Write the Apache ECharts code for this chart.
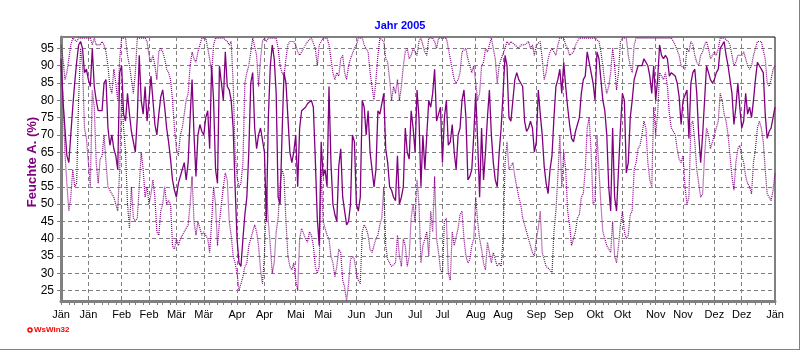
<!DOCTYPE html>
<html><head><meta charset="utf-8">
<script src="https://cdn.jsdelivr.net/npm/echarts@6/dist/echarts.min.js"></script>
<style>html,body{margin:0;padding:0;background:#fff}#c{width:800px;height:350px}</style>
</head><body><div id="c"></div>
<script>
// day index 0 = 1 Jan 2005 ... 365 = 1 Jan 2006
const days = Array.from({length: 366}, (_, i) => i);
const tickDays = [0,14,31,45,59,73,90,104,120,134,151,165,181,195,212,226,243,257,273,287,304,318,334,348,365];
const tickLabels = ['Jän','Jän','Feb','Feb','Mär','Mär','Apr','Apr','Mai','Mai','Jun','Jun','Jul','Jul','Aug','Aug','Sep','Sep','Okt','Okt','Nov','Nov','Dez','Dez','Jän'];
const yTicks = [25,30,35,40,45,50,55,60,65,70,75,80,85,90,95];

const meanValues = [
92,80,72,64,62,70,78,85,91,96,
97,95,88,89,86,84,95,84,80,77,
77,77,85,86,72,67,70,66,64,60,
88,90,76,74,82,76,71,68,65,75,
93,80,76,84,74,80,87,80,73,70,
76,81,83,78,72,68,63,57,54,52,
56,58,58,62,57,62,75,86,70,58,
70,73,71,70,75,77,66,90,80,60,
56,90,90,80,94,84,83,80,72,55,
40,33,32,40,47,52,65,85,88,72,
66,70,72,72,65,45,75,90,96,92,
82,52,50,70,88,85,75,65,62,65,
70,55,72,77,77,78,79,79,80,78,
63,46,38,68,58,60,55,84,62,50,
47,45,61,66,52,48,44,45,50,70,
68,50,48,52,80,78,70,77,65,60,
55,60,77,76,76,82,66,62,55,54,
52,51,64,50,52,55,72,65,63,77,
72,65,83,75,55,70,60,60,80,78,
82,89,74,76,78,62,75,80,67,68,
73,65,60,70,72,80,83,75,57,58,
60,70,82,68,52,72,57,65,75,83,
70,62,57,55,65,72,82,93,90,75,
74,80,86,88,86,85,84,74,71,72,
74,72,65,68,83,76,70,61,56,53,
60,64,75,84,86,89,82,91,84,78,
73,69,68,71,73,75,82,86,87,94,
91,88,85,80,94,92,86,80,77,70,
55,48,72,52,48,60,72,82,80,59,
62,75,80,86,88,90,90,90,92,91,
90,87,82,90,80,86,96,93,92,93,
92,87,88,88,87,85,81,73,80,80,
83,69,85,88,89,82,70,62,70,80,
90,88,86,85,86,88,89,95,96,97,
93,90,90,82,73,78,85,78,72,74,
82,76,78,75,80,86,91,90,89,88,
76,69,71,72,75,78
];
const maxValues = [
96,92,86,88,92,96,98,98,97,98,
98,98,98,98,98,98,96,98,96,96,
96,97,96,94,90,84,82,89,85,80,
92,98,98,98,93,90,86,82,88,98,
98,98,98,98,97,93,91,93,90,86,
94,95,94,92,89,88,86,80,72,66,
64,70,72,76,80,82,90,94,92,91,
94,96,98,98,98,98,92,88,96,98,
98,98,98,98,98,97,96,97,85,65,
58,55,56,62,85,88,90,90,98,98,
93,84,92,97,98,97,98,98,98,98,
98,95,90,88,87,92,96,97,97,97,
96,94,93,93,95,96,97,97,98,98,
95,90,96,97,98,98,98,96,92,88,
86,88,87,92,93,88,86,90,92,92,
95,96,98,98,98,96,95,94,88,84,
80,86,93,98,98,97,92,91,86,80,
84,82,86,80,84,90,94,95,92,93,
95,94,93,97,98,96,94,93,98,98,
98,97,95,98,98,98,98,98,95,92,
92,86,85,86,88,94,94,95,92,90,
88,90,85,80,82,90,91,95,94,96,
98,98,92,85,90,92,92,95,97,96,
97,97,96,96,95,96,96,96,96,97,
95,96,93,96,96,97,92,86,88,92,
94,95,94,93,96,98,98,98,96,95,
93,93,94,96,96,98,98,98,98,98,
98,98,98,98,98,97,94,90,85,82,
84,88,95,90,83,88,97,98,98,98,
93,90,88,96,98,98,98,98,98,98,
98,98,98,98,98,98,98,98,98,98,
98,98,98,97,96,96,93,90,90,89,
95,94,97,96,93,91,90,93,94,96,
97,95,92,93,94,93,95,98,98,98,
98,97,96,93,90,91,93,93,93,94,
92,90,89,90,93,95,97,97,97,97,
92,85,84,86,89,90
];
const minValues = [
90,82,65,56,48,52,60,55,56,80,
95,90,72,69,62,55,83,78,62,56,
63,64,70,62,55,54,53,52,50,48,
60,82,72,65,50,43,55,46,45,46,
55,65,60,52,55,50,53,57,52,42,
41,48,50,55,50,51,50,38,37,40,
38,40,40,42,43,44,50,58,45,41,
45,43,41,42,41,40,36,45,55,50,
38,45,50,55,59,57,45,41,35,33,
30,25,25,29,32,33,38,40,42,44,
42,38,31,27,35,55,45,38,30,33,
42,46,56,60,58,45,35,32,31,33,
28,25,40,43,43,40,39,42,41,38,
32,30,32,60,45,43,41,40,35,33,
29,32,37,36,28,26,22,27,34,35,
34,30,28,27,42,44,43,41,37,36,
38,40,41,44,46,55,38,34,33,32,
32,33,41,35,32,40,38,32,35,46,
50,45,57,50,33,38,40,42,35,48,
42,58,40,36,31,30,45,46,30,28,
42,38,38,43,47,48,40,35,33,34,
38,40,52,45,40,37,33,31,39,36,
33,36,34,32,33,32,40,62,68,60,
60,62,58,55,52,50,46,44,42,40,
38,36,35,40,43,48,36,34,32,32,
31,30,42,48,58,70,55,65,60,48,
44,38,40,42,46,47,52,53,60,72,
75,65,50,51,70,60,50,42,40,38,
37,36,45,35,33,38,44,48,42,40,
41,47,48,60,62,66,67,70,74,72,
62,57,55,78,70,76,88,87,86,88,
84,76,72,72,70,66,63,62,64,55,
50,52,73,74,68,60,56,52,53,64,
72,70,66,66,70,72,74,82,80,76,
74,70,64,58,54,62,66,67,64,62,
58,56,55,53,62,66,72,74,72,68,
60,53,52,51,54,59
];

// tick positions: majors at tickDays, minors subdividing each half-month
const tickSet = new Set();
for (let i = 0; i < tickDays.length - 1; i++) {
  const a = tickDays[i], b = tickDays[i + 1];
  const n = Math.round((b - a) / 3.5);
  for (let k = 0; k <= n; k++) tickSet.add(Math.round(a + k * (b - a) / n));
}
const majorSet = new Set(tickDays);
const labelOf = {};
tickDays.forEach((d, i) => labelOf[d] = tickLabels[i]);

const font = 'Liberation Sans, Arial, sans-serif';
const purple = '#800080';
const chart = echarts.init(document.getElementById('c'), null, {renderer: 'canvas'});
chart.setOption({
  animation: false,
  backgroundColor: '#ffffff',
  title: {
    text: 'Jahr 2005', left: 'center', top: 15,
    textStyle: {color: '#0000ff', fontWeight: 'bold', fontSize: 11, fontFamily: font}
  },
  grid: {left: 61, right: 25, top: 37, bottom: 49, show: true, borderColor: '#000000', borderWidth: 1, backgroundColor: 'transparent'},
  xAxis: {
    type: 'category', data: days, boundaryGap: false,
    axisLine: {show: true, lineStyle: {color: '#808080', width: 3}},
    axisTick: {show: true, length: 4, interval: (i) => tickSet.has(i), lineStyle: {color: '#808080', width: 1}},
    axisLabel: {show: true, interval: (i) => majorSet.has(i), formatter: (v, i) => labelOf[i] || '',
      color: '#000', fontSize: 11, fontFamily: font, margin: 8},
    splitLine: {show: true, interval: (i) => majorSet.has(i), lineStyle: {color: '#808080', type: [4, 3], width: 1}}
  },
  yAxis: {
    type: 'value', min: 22, max: 98.3,
    name: 'Feuchte A. (%)', nameLocation: 'middle', nameGap: 22, nameMoveOverlap: false,
    nameTextStyle: {color: purple, fontWeight: 'bold', fontSize: 13, fontFamily: font, padding: [0, 0, 0, 14]},
    axisLine: {show: true, lineStyle: {color: '#808080', width: 3}},
    axisTick: {show: true, length: 4, customValues: yTicks, lineStyle: {color: '#808080'}},
    axisLabel: {customValues: yTicks, color: '#000', fontSize: 12, fontFamily: font, margin: 7},
    splitLine: {show: true, lineStyle: {color: '#808080', type: [4, 3], width: 1}}
  },
  series: [
    {name: 'Max', type: 'line', data: maxValues, showSymbol: false, silent: true,
      lineStyle: {color: purple, width: 1.2, type: [1, 1]}, z: 3},
    {name: 'Min', type: 'line', data: minValues, showSymbol: false, silent: true,
      lineStyle: {color: purple, width: 1.2, type: [1, 1]}, z: 3},
    {name: 'Mittel', type: 'line', data: meanValues, showSymbol: false, silent: true,
      lineStyle: {color: purple, width: 1.3}, z: 4}
  ],
  graphic: [
    {type: 'circle', shape: {cx: 30, cy: 330, r: 2}, style: {fill: '#fff', stroke: '#ff0000', lineWidth: 1.5}},
    {type: 'text', x: 34, y: 330, style: {text: 'WsWin32', fill: '#ff0000', font: 'bold 8px ' + font, verticalAlign: 'middle'}},
    {type: 'line', shape: {x1: 0, y1: 349.5, x2: 800, y2: 349.5}, style: {stroke: '#808080', lineWidth: 1}},
    {type: 'line', shape: {x1: 799.5, y1: 0, x2: 799.5, y2: 350}, style: {stroke: '#808080', lineWidth: 1}}
  ]
});
</script>
</body></html>
